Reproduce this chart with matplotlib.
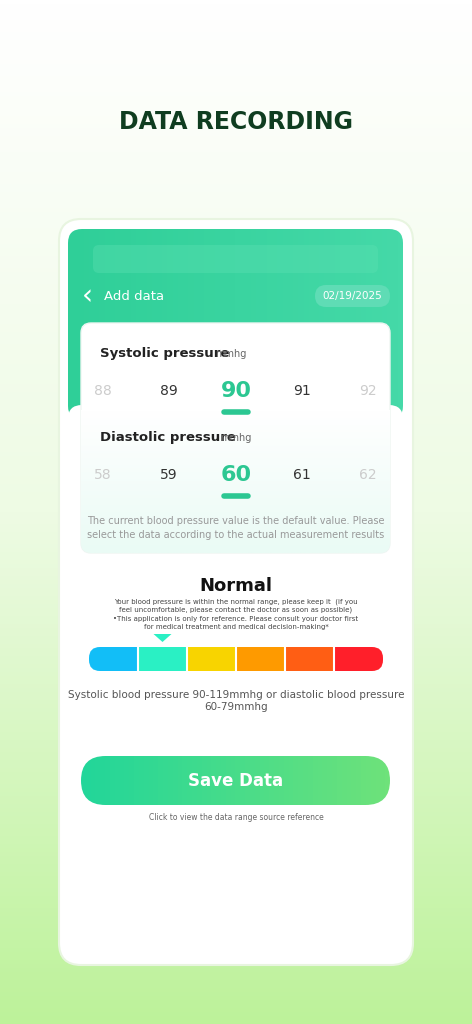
import numpy as np
import matplotlib.pyplot as plt
from matplotlib.patches import FancyBboxPatch, Rectangle, Polygon
from matplotlib.colors import LinearSegmentedColormap

title = "DATA RECORDING"
systolic_vals = [88, 89, 90, 91, 92]
diastolic_vals = [58, 59, 60, 61, 62]
date_label = "02/19/2025"
level_colors = ["#12BEF7", "#2AF0C4", "#F8D400", "#FE9A00", "#FF5E14", "#FF1F2A"]
selected_level = 1

W, H = 472, 1024
fig = plt.figure(figsize=(W/100, H/100), dpi=100)
ax = fig.add_axes([0, 0, 1, 1])
ax.set_xlim(0, W); ax.set_ylim(H, 0); ax.axis("off")

bg = LinearSegmentedColormap.from_list("bg", ["#ffffff", "#eefbe4", "#bdf29a"])
ax.imshow(np.linspace(0, 1, 256)[:, None], cmap=bg, extent=[0, W, H, 0], aspect="auto", zorder=0)

ax.text(236, 122, title, ha="center", va="center", fontsize=17, fontweight="heavy",
        color="#0f3d20", family="DejaVu Sans")

ax.add_patch(FancyBboxPatch((59, 219), 354, 746, boxstyle="round,pad=0,rounding_size=22",
                            fc="white", ec="#e8f5e0", lw=1.5, zorder=1))
hdr = LinearSegmentedColormap.from_list("hdr", ["#2fcf98", "#45d9a8"])
im = ax.imshow(np.linspace(0, 1, 64)[None, :], cmap=hdr, extent=[68, 403, 420, 229], aspect="auto", zorder=2)
im.set_clip_path(FancyBboxPatch((68, 229), 335, 191, boxstyle="round,pad=0,rounding_size=14", transform=ax.transData))
ax.add_patch(FancyBboxPatch((93, 245), 285, 28, boxstyle="round,pad=0,rounding_size=6",
                            fc="#5be0b2", ec="none", alpha=0.4, zorder=3))
ax.text(82, 296, "‹", fontsize=20, color="white", va="center", zorder=4)
ax.text(104, 296, "Add data", fontsize=9.5, color="white", va="center", zorder=4)
ax.add_patch(FancyBboxPatch((315, 285), 75, 22, boxstyle="round,pad=0,rounding_size=11",
                            fc="#5fdcb5", ec="none", zorder=3))
ax.text(352, 296, date_label, fontsize=7.5, color="white", ha="center", va="center", zorder=4)

ax.add_patch(FancyBboxPatch((68, 405), 335, 40, boxstyle="round,pad=0,rounding_size=14",
                            fc="white", ec="none", zorder=3))
ax.add_patch(FancyBboxPatch((81, 323), 309, 230, boxstyle="round,pad=0,rounding_size=10",
                            fc="white", ec="#eef5f2", lw=1, zorder=4))
mint = LinearSegmentedColormap.from_list("m", ["#ffffff", "#eafbf5"])
im2 = ax.imshow(np.linspace(0, 1, 64)[:, None], cmap=mint, extent=[81, 390, 553, 410], aspect="auto", zorder=4.5)
im2.set_clip_path(FancyBboxPatch((81, 323), 309, 230, boxstyle="round,pad=0,rounding_size=10", transform=ax.transData))

xs = [103, 169, 236, 302, 368]
cols = ["#cccccc", "#333333", "#2cc792", "#333333", "#cccccc"]
for label, vals, yt, yv, ux in [("Systolic pressure", systolic_vals, 353, 391, 215),
                                 ("Diastolic pressure", diastolic_vals, 437, 475, 220)]:
    ax.text(100, yt, label, fontsize=9.5, fontweight="bold", color="#222222", va="center", zorder=6)
    ax.text(ux, yt + 1, "mmhg", fontsize=7, color="#666666", va="center", zorder=6)
    for i, (x, v) in enumerate(zip(xs, vals)):
        sel = i == 2
        ax.text(x, yv, str(v), ha="center", va="center", fontsize=16 if sel else 10,
                fontweight="bold" if sel else "normal", color=cols[i], zorder=6)
    ax.plot([224, 248], [yv + 21, yv + 21], color="#2cc792", lw=4, solid_capstyle="round", zorder=6)

ax.text(236, 528, "The current blood pressure value is the default value. Please\nselect the data according to the actual measurement results",
        ha="center", va="center", fontsize=7, color="#999999", linespacing=1.4, zorder=6)

ax.text(236, 586, "Normal", ha="center", va="center", fontsize=13, fontweight="bold", color="#111111", zorder=6)
ax.text(236, 614, "Your blood pressure is within the normal range, please keep it  (if you\nfeel uncomfortable, please contact the doctor as soon as possible)\n•This application is only for reference. Please consult your doctor first\nfor medical treatment and medical decision-making*",
        ha="center", va="center", fontsize=5, color="#444444", linespacing=1.45, zorder=6)

x0, x1, y0, h = 89, 383, 647, 24
seg = (x1 - x0) / len(level_colors)
for i, c in enumerate(level_colors):
    if i == 0 or i == len(level_colors) - 1:
        ax.add_patch(FancyBboxPatch((x0 + i*seg, y0), seg, h, boxstyle="round,pad=0,rounding_size=11",
                                    fc=c, ec="none", zorder=6))
        rx = x0 + i*seg + (seg/2 if i == 0 else 0)
        ax.add_patch(Rectangle((rx, y0), seg/2, h, fc=c, ec="none", zorder=6))
    else:
        ax.add_patch(Rectangle((x0 + i*seg, y0), seg, h, fc=c, ec="none", zorder=6))
for i in range(1, len(level_colors)):
    ax.plot([x0 + i*seg]*2, [y0, y0 + h], color="white", lw=1.5, zorder=7)
cx = x0 + (selected_level + 0.5) * seg
ax.add_patch(Polygon([[cx - 9, 634], [cx + 9, 634], [cx, 642]], closed=True, fc="#2AF0C4", ec="none", zorder=6))

ax.text(236, 701, "Systolic blood pressure 90-119mmhg or diastolic blood pressure\n60-79mmhg",
        ha="center", va="center", fontsize=7.5, color="#555555", linespacing=1.3, zorder=6)

btn = LinearSegmentedColormap.from_list("b", ["#22d69a", "#6ee27a"])
im3 = ax.imshow(np.linspace(0, 1, 64)[None, :], cmap=btn, extent=[81, 390, 805, 756], aspect="auto", zorder=6)
im3.set_clip_path(FancyBboxPatch((81, 756), 309, 49, boxstyle="round,pad=0,rounding_size=24.5", transform=ax.transData))
ax.text(236, 781, "Save Data", ha="center", va="center", fontsize=12, fontweight="bold", color="white", zorder=7)
ax.text(236, 817, "Click to view the data range source reference", ha="center", va="center",
        fontsize=5.5, color="#666666", zorder=7)

fig.savefig("out.png", dpi=100)
